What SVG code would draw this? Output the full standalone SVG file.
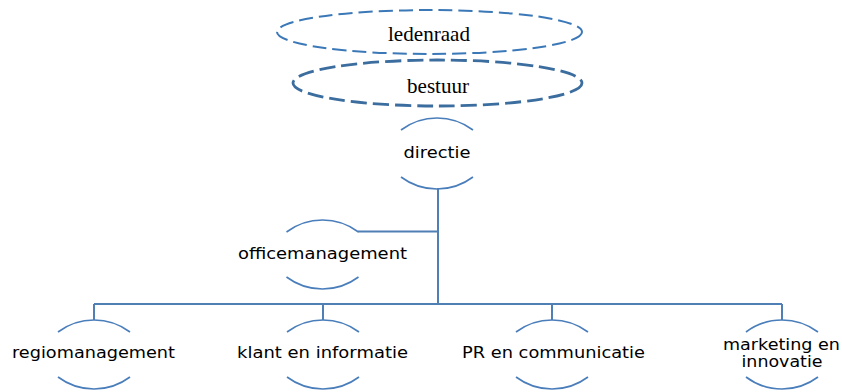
<svg xmlns="http://www.w3.org/2000/svg" width="842" height="392" viewBox="0 0 842 392">
<style>
.arc{fill:none;stroke:#4a7ebb;stroke-width:1.6}
.con{fill:none;stroke:#4f7fb4;stroke-width:2}
.lbl{font-family:"DejaVu Sans",Verdana,sans-serif;font-size:15.5px;fill:#000;text-anchor:middle}
.ser{font-family:"Liberation Serif","Times New Roman",serif;font-size:21px;fill:#000;text-anchor:middle}
</style>
<rect width="842" height="392" fill="#fff"/>
<g id="connectors">
<path class="con" d="M438,188 V304" stroke-width="2.5"/>
<path class="con" d="M358,231.5 H438"/>
<path class="con" d="M94,304 H782"/>
<path class="con" d="M94,304 V320 M323,304 V320 M552,304 V320 M782,304 V320"/>
</g>
<g id="ledenraad">
<ellipse cx="429.5" cy="32" rx="152.5" ry="22" fill="none" stroke="#3b78b8" stroke-width="2" stroke-dasharray="14 6"/>
<text class="ser" x="429" y="41" textLength="82" lengthAdjust="spacingAndGlyphs">ledenraad</text>
</g>
<g id="bestuur">
<ellipse cx="437.5" cy="83" rx="144.5" ry="23" fill="none" stroke="#3c6d9f" stroke-width="2.8" stroke-dasharray="16 6"/>
<text class="ser" x="438" y="93" textLength="62" lengthAdjust="spacingAndGlyphs">bestuur</text>
</g>
<g id="directie">
<path class="arc" d="M401,130 A60,60 0 0 1 473,130 M401,177 A60,60 0 0 0 473,177"/>
<text class="lbl" x="437" y="158" textLength="67" lengthAdjust="spacingAndGlyphs">directie</text>
</g>
<g id="officemanagement">
<path class="arc" d="M286.5,232 A60,60 0 0 1 358.5,232 M286.5,277 A60,60 0 0 0 358.5,277"/>
<text class="lbl" x="322.5" y="259" textLength="169" lengthAdjust="spacingAndGlyphs">officemanagement</text>
</g>
<g id="regiomanagement">
<path class="arc" d="M58,332 A60,60 0 0 1 130,332 M58,377 A60,60 0 0 0 130,377"/>
<text class="lbl" x="93.5" y="358" textLength="163" lengthAdjust="spacingAndGlyphs">regiomanagement</text>
</g>
<g id="klant">
<path class="arc" d="M287,332 A60,60 0 0 1 359,332 M287,377 A60,60 0 0 0 359,377"/>
<text class="lbl" x="322.5" y="358" textLength="171" lengthAdjust="spacingAndGlyphs">klant en informatie</text>
</g>
<g id="pr">
<path class="arc" d="M516,332 A60,60 0 0 1 588,332 M516,377 A60,60 0 0 0 588,377"/>
<text class="lbl" x="553.5" y="358" textLength="183" lengthAdjust="spacingAndGlyphs">PR en communicatie</text>
</g>
<g id="marketing">
<path class="arc" d="M746,332 A60,60 0 0 1 818,332 M746,377 A60,60 0 0 0 818,377"/>
<text class="lbl" x="781.5" y="350" textLength="117" lengthAdjust="spacingAndGlyphs">marketing en</text>
<text class="lbl" x="782" y="367" textLength="81" lengthAdjust="spacingAndGlyphs">innovatie</text>
</g>
</svg>
